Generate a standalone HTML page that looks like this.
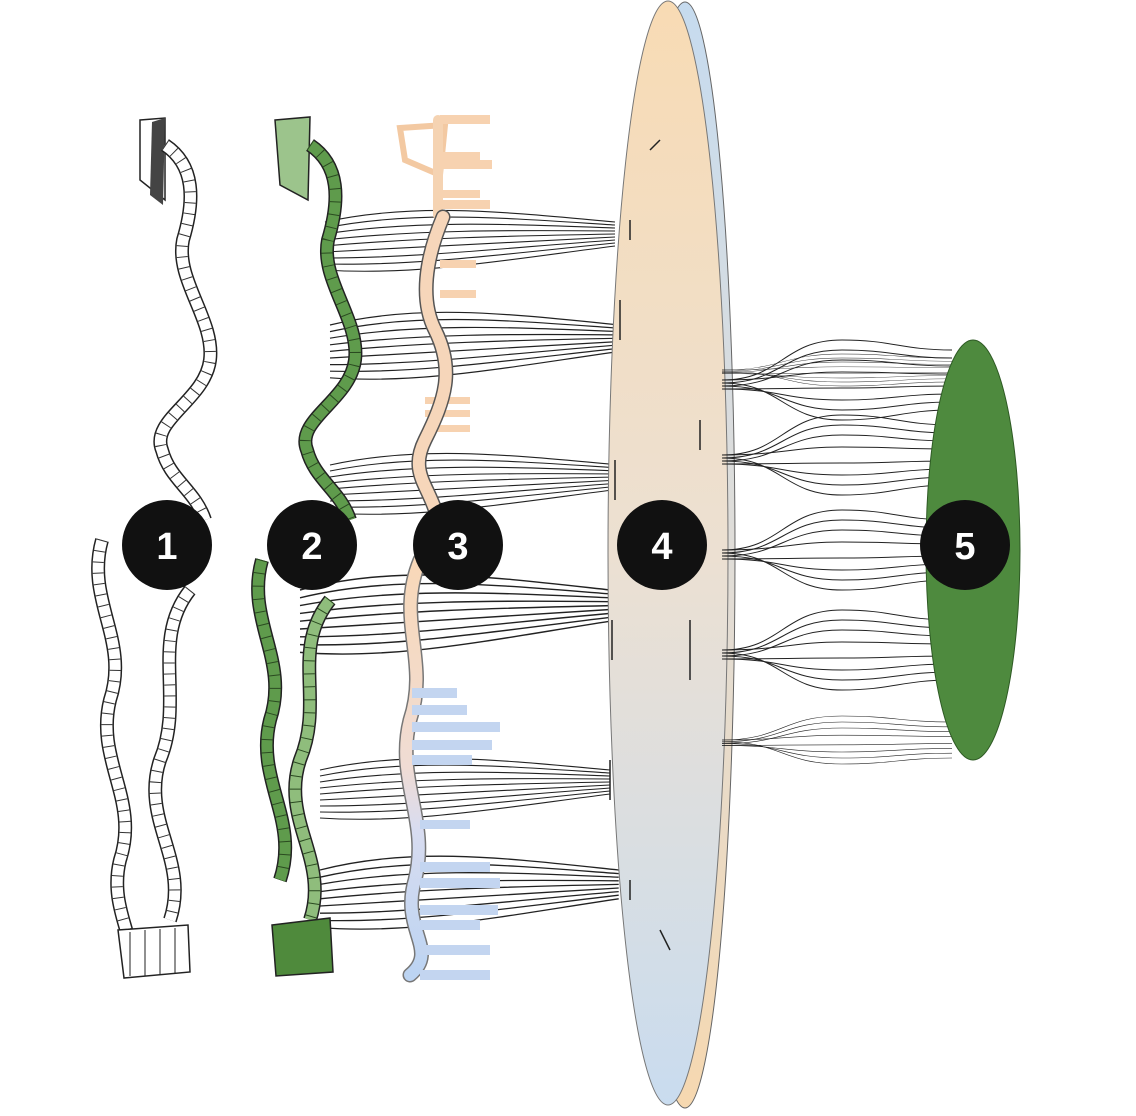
<!DOCTYPE html>
<html><head><meta charset="utf-8"><style>
html,body{margin:0;padding:0;background:#fff;}
svg{display:block;}
text{font-family:"Liberation Sans",sans-serif;font-weight:bold;}
</style></head><body>
<svg width="1136" height="1116" viewBox="0 0 1136 1116" xmlns="http://www.w3.org/2000/svg">
<defs>
<linearGradient id="front" x1="0" y1="0" x2="0" y2="1">
<stop offset="0" stop-color="#f8dbb4"/><stop offset="0.5" stop-color="#ece0d2"/><stop offset="1" stop-color="#c9dcef"/>
</linearGradient>
<linearGradient id="back" x1="0" y1="0" x2="0" y2="1">
<stop offset="0" stop-color="#c6dbef"/><stop offset="0.5" stop-color="#e0ddd8"/><stop offset="1" stop-color="#f6d8b0"/>
</linearGradient>
<linearGradient id="tube" x1="0" y1="0" x2="0" y2="1">
<stop offset="0" stop-color="#f8d8b8"/><stop offset="0.5" stop-color="#f0dcd4"/><stop offset="0.65" stop-color="#d8dcf0"/><stop offset="1" stop-color="#bcd4f2"/>
</linearGradient>
<g id="b1" fill="none" stroke="#222" stroke-width="1.1">
<path d="M0,0 C90,-20 180,-10 290,0"/>
<path d="M0,6 C90,-12 180,-4 290,3"/>
<path d="M0,12 C90,-2 180,2 290,6"/>
<path d="M0,18 C90,8 180,8 290,9"/>
<path d="M0,24 C90,16 180,14 290,12"/>
<path d="M0,30 C90,26 180,20 290,15"/>
<path d="M0,36 C90,36 180,26 290,18"/>
<path d="M0,42 C90,44 180,32 290,21"/>
<path d="M0,48 C90,54 180,38 290,24"/>
</g>
<g id="b2" fill="none" stroke="#222" stroke-width="1">
<path d="M0,0 C60,0 60,-40 120,-40 C170,-40 180,-30 230,-30"/>
<path d="M0,3 C60,3 60,-30 120,-30 C170,-30 180,-22 230,-22"/>
<path d="M0,6 C60,6 60,-20 120,-20 C170,-20 180,-14 230,-14"/>
<path d="M0,3 C60,3 60,40 120,40 C170,40 180,30 230,30"/>
<path d="M0,6 C60,6 60,30 120,30 C170,30 180,22 230,22"/>
<path d="M0,9 C60,9 60,20 120,20 C170,20 180,14 230,14"/>
<path d="M0,0 C60,0 70,-8 120,-8 C170,-8 180,-6 230,-6"/>
<path d="M0,9 C60,9 70,8 120,8 C170,8 180,6 230,6"/>
</g>
<path id="r1a" d="M165,145 C195,165 195,200 183,240 C175,280 215,320 210,360 C205,400 150,420 162,450 C170,480 195,490 205,520"/>
<path id="r1b" d="M102,540 C85,600 130,640 110,700 C95,760 140,800 120,860 C110,900 130,930 130,950"/>
<path id="r1c" d="M190,590 C150,640 185,700 160,760 C140,820 190,860 170,920"/>
<path id="r2a" d="M310,145 C340,165 340,200 328,240 C320,280 360,320 355,360 C350,400 295,420 307,450 C315,480 340,490 350,520"/>
<path id="r2b" d="M262,560 C245,620 290,660 270,720 C255,780 300,820 280,880"/>
<path id="r2c" d="M330,600 C290,650 325,700 300,760 C280,820 330,860 310,920"/>
</defs>

<!-- left bundles -->
<use href="#b1" transform="translate(325,222)"/>
<use href="#b1" transform="translate(330,325) scale(1,1.1)"/>
<use href="#b1" transform="translate(330,465)"/>
<use href="#b1" transform="translate(300,590) scale(1.07,1.3)"/>
<use href="#b1" transform="translate(320,770)"/>
<use href="#b1" transform="translate(320,870) scale(1.03,1.2)"/>

<!-- ribbon 1 -->
<g fill="none" stroke-linecap="butt">
<path d="M140,120 L165,118 L165,200 L140,180 Z" fill="#fff" stroke="#222" stroke-width="1.5"/>
<path d="M152,122 L165,118 L163,205 L150,195 Z" fill="#444"/>
<use href="#r1a" stroke="#222" stroke-width="14"/><use href="#r1a" stroke="#fff" stroke-width="11"/><use href="#r1a" stroke="#333" stroke-width="11" stroke-dasharray="1 10"/>
<use href="#r1b" stroke="#222" stroke-width="14"/><use href="#r1b" stroke="#fff" stroke-width="11"/><use href="#r1b" stroke="#333" stroke-width="11" stroke-dasharray="1 10"/>
<use href="#r1c" stroke="#222" stroke-width="14"/><use href="#r1c" stroke="#fff" stroke-width="11"/><use href="#r1c" stroke="#333" stroke-width="11" stroke-dasharray="1 10"/>
<path d="M118,930 L188,925 L190,972 L124,978 Z" fill="#fff" stroke="#222" stroke-width="1.5"/>
<path d="M130,932 V976 M145,930 V976 M160,929 V975 M175,928 V974" stroke="#222"/>
</g>

<!-- ribbon 2 -->
<g fill="none" stroke-linecap="butt">
<path d="M275,120 L310,117 L308,200 L280,185 Z" fill="#9cc48c" stroke="#222" stroke-width="1.5"/>
<use href="#r2a" stroke="#222" stroke-width="14"/><use href="#r2a" stroke="#5f9b4c" stroke-width="11"/><use href="#r2a" stroke="#2a4a20" stroke-width="11" stroke-dasharray="1 12"/>
<use href="#r2b" stroke="#222" stroke-width="14"/><use href="#r2b" stroke="#5f9b4c" stroke-width="11"/><use href="#r2b" stroke="#2a4a20" stroke-width="11" stroke-dasharray="1 12"/>
<use href="#r2c" stroke="#222" stroke-width="14"/><use href="#r2c" stroke="#8fbd7c" stroke-width="11"/><use href="#r2c" stroke="#2a4a20" stroke-width="11" stroke-dasharray="1 12"/>
<path d="M272,925 L330,918 L333,972 L276,976 Z" fill="#4f8a3c" stroke="#222" stroke-width="1.5"/>
</g>

<!-- tube 3 -->
<g fill="none" stroke-linecap="round">
<path d="M400,128 L445,125 L440,175 L405,160 Z" fill="none" stroke="#f3c9a2" stroke-width="6"/>
<path d="M438,120 L438,215" stroke="#f5d3b2" stroke-width="10"/>
<g fill="#f7d2b0">
<rect x="440" y="115" width="50" height="9"/><rect x="440" y="152" width="40" height="8"/><rect x="440" y="160" width="52" height="9"/>
<rect x="440" y="190" width="40" height="8"/><rect x="440" y="200" width="50" height="9"/>
<rect x="440" y="260" width="36" height="8"/><rect x="440" y="290" width="36" height="8"/>
<rect x="425" y="397" width="45" height="7"/><rect x="425" y="410" width="45" height="7"/><rect x="425" y="425" width="45" height="7"/>
</g>
<path d="M443,217 C425,260 420,300 435,330 C455,370 445,400 425,440 C405,480 440,490 440,540" stroke="#555" stroke-width="15"/>
<path d="M443,217 C425,260 420,300 435,330 C455,370 445,400 425,440 C405,480 440,490 440,540" stroke="#f6d6ba" stroke-width="12"/>
<path d="M420,560 C395,620 430,660 410,720 C395,780 430,820 415,880 C400,930 440,950 410,975" stroke="#777" stroke-width="15"/>
<path d="M420,560 C395,620 430,660 410,720 C395,780 430,820 415,880 C400,930 440,950 410,975" stroke="url(#tube)" stroke-width="12"/>
<g fill="#c3d5f0">
<rect x="412" y="688" width="45" height="10"/><rect x="412" y="705" width="55" height="10"/><rect x="412" y="722" width="88" height="10"/>
<rect x="412" y="740" width="80" height="10"/><rect x="412" y="755" width="60" height="10"/>
<rect x="420" y="820" width="50" height="9"/><rect x="420" y="862" width="70" height="10"/><rect x="420" y="878" width="80" height="10"/>
<rect x="420" y="905" width="78" height="10"/><rect x="420" y="920" width="60" height="10"/><rect x="420" y="945" width="70" height="10"/><rect x="420" y="970" width="70" height="10"/>
</g>
</g>

<!-- disc 4 -->
<ellipse cx="685" cy="555" rx="50" ry="553" fill="url(#back)" stroke="#666" stroke-width="1"/>
<ellipse cx="668" cy="553" rx="60" ry="552" fill="url(#front)" stroke="#777" stroke-width="1"/>
<g stroke="#222" stroke-width="1.5">
<path d="M630,220 V240 M620,300 V340 M615,460 V500 M612,620 V660 M610,760 V800 M630,880 V900 M690,620 V680 M700,420 V450 M660,930 L670,950 M650,150 L660,140"/>
</g>

<!-- right bundles -->
<use href="#b2" transform="translate(722,380)"/>
<use href="#b2" transform="translate(722,455)"/>
<use href="#b2" transform="translate(722,550)"/>
<use href="#b2" transform="translate(722,650)"/>
<use href="#b2" transform="translate(722,740) scale(1,0.6)"/>
<use href="#b2" transform="translate(722,370) scale(1,0.4)"/>

<!-- ellipse 5 -->
<ellipse cx="973" cy="550" rx="47" ry="210" fill="#4e8a3e" stroke="#2e5a24" stroke-width="1"/>

<!-- badges -->
<g fill="#111">
<circle cx="167" cy="545" r="45"/><circle cx="312" cy="545" r="45"/><circle cx="458" cy="545" r="45"/><circle cx="662" cy="545" r="45"/><circle cx="965" cy="545" r="45"/>
</g>
<g fill="#fff" font-size="38" text-anchor="middle">
<text x="167" y="559">1</text><text x="312" y="559">2</text><text x="458" y="559">3</text><text x="662" y="559">4</text><text x="965" y="559">5</text>
</g>
</svg>
</body></html>
